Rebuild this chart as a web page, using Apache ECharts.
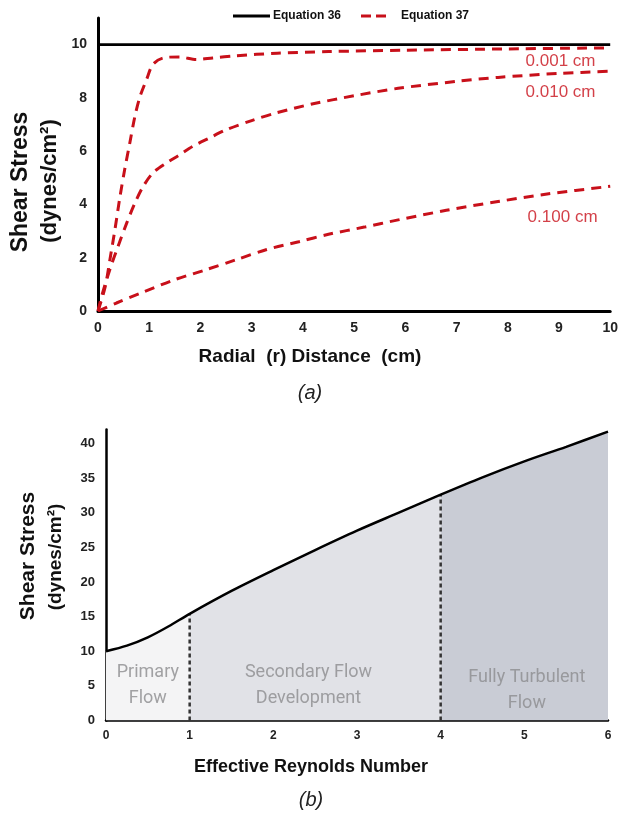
<!DOCTYPE html>
<html>
<head>
<meta charset="utf-8">
<script src="https://cdn.jsdelivr.net/npm/echarts@6/dist/echarts.min.js"></script>
<style>
  html, body { margin: 0; padding: 0; background: #fff; }
  #chart { width: 621px; height: 813px; }
</style>
</head>
<body>
<div id="chart"></div>
<script>
// (a) shear stress vs radial distance
const eq36X = [0, 10];
const eq36Y = [10, 10];

const r001X = [0, 0.14, 0.23, 0.33, 0.43, 0.52, 0.62, 0.72, 0.82, 0.95, 1.07, 1.27, 1.59, 1.92, 2.24, 2.69, 3.5, 4.5, 6, 8, 10];
const r001Y = [0, 0.9, 1.9, 3.05, 4.3, 5.3, 6.3, 7.3, 8.05, 8.7, 9.25, 9.5, 9.54, 9.44, 9.5, 9.58, 9.68, 9.74, 9.79, 9.84, 9.88];

const r010X = [0, 0.07, 0.23, 0.39, 0.56, 0.72, 0.88, 1.07, 1.33, 1.59, 1.85, 2.17, 2.5, 3, 3.5, 4.2, 5, 5.86, 7, 7.81, 9, 10];
const r010Y = [0, 0.55, 1.55, 2.42, 3.3, 4.05, 4.67, 5.18, 5.55, 5.86, 6.18, 6.49, 6.8, 7.15, 7.45, 7.78, 8.08, 8.36, 8.62, 8.77, 8.92, 9.0];

const r100X = [0, 0.36, 0.82, 1.46, 2.11, 2.69, 3.28, 3.92, 4.5, 5.2, 5.86, 6.8, 7.81, 8.8, 10];
const r100Y = [0, 0.3, 0.66, 1.15, 1.55, 1.92, 2.3, 2.6, 2.88, 3.15, 3.42, 3.78, 4.11, 4.4, 4.68];

const gapLabels = ['0.001 cm', '0.010 cm', '0.100 cm'];
const gapLabelX = [9.03, 9.03, 9.07];
const gapLabelY = [9.38, 8.2, 3.5];

// (b) shear stress vs effective Reynolds number
const reX = [0, 0.25, 0.5, 0.75, 1, 1.5, 2, 2.5, 3, 3.5, 4, 4.5, 5, 5.5, 6];
const reY = [10, 10.8, 12.0, 13.6, 15.4, 18.7, 21.7, 24.6, 27.4, 30.0, 32.6, 35.1, 37.4, 39.5, 41.7];
const regionBounds = [0, 1, 4, 6];
const regionColors = ['#f4f4f5', '#e1e2e7', '#c9ccd5'];
const regionNames = ['Primary\nFlow', 'Secondary Flow\nDevelopment', 'Fully Turbulent\nFlow'];
const regionLabelX = [0.5, 2.42, 5.03];
const regionLabelY = [5.1, 5.0, 4.4];

const zip = (xs, ys) => xs.map((x, i) => [x, ys[i]]);
const RED = '#c8101a';
const FONT = '"Liberation Sans", Arial, sans-serif';

const chart = echarts.init(document.getElementById('chart'), null, { renderer: 'canvas' });

const redLine = (xs, ys) => ({
  name: 'Equation 37',
  type: 'line',
  xAxisIndex: 0,
  yAxisIndex: 0,
  data: zip(xs, ys),
  smooth: 0.3,
  symbol: 'none',
  lineStyle: { color: RED, width: 3, type: [10, 7] },
  itemStyle: { color: RED },
  z: 3
});

const areaSeries = regionColors.map((c, i) => ({
  type: 'line',
  xAxisIndex: 1,
  yAxisIndex: 1,
  data: zip(reX, reY).filter(p => p[0] >= regionBounds[i] && p[0] <= regionBounds[i + 1]),
  smooth: 0.3,
  symbol: 'none',
  lineStyle: { width: 0 },
  areaStyle: { color: c, opacity: 1 },
  silent: true,
  z: 1
}));

const dividerSeries = [1, 4].map(b => ({
  type: 'line',
  xAxisIndex: 1,
  yAxisIndex: 1,
  data: [[b, 0], [b, reY[reX.indexOf(b)]]],
  symbol: 'none',
  lineStyle: { color: '#333', width: 2.5, type: [4, 3] },
  silent: true,
  z: 2
}));

const axisCommon = {
  axisLine: { show: true, onZero: false, lineStyle: { color: '#000', width: 3 } },
  axisTick: { show: false },
  splitLine: { show: false }
};

const option = {
  animation: false,
  backgroundColor: '#fff',
  legend: {
    data: [
      { name: 'Equation 36', icon: 'path://M0,0h37v3h-37z', itemStyle: { color: '#000' } },
      { name: 'Equation 37', icon: 'path://M0,0h10v3h-10z M15,0h10v3h-10z M37,0h0v3h0z', itemStyle: { color: RED } }
    ],
    left: 228,
    top: 5,
    itemWidth: 37,
    itemHeight: 3,
    itemGap: 20,
    textStyle: { fontFamily: FONT, fontWeight: 'bold', fontSize: 12, color: '#111', padding: [0, 0, 0, -2] }
  },
  grid: [
    { left: 98, top: 18, width: 515, height: 293 },
    { left: 106, top: 429.5, width: 502, height: 291 }
  ],
  xAxis: [
    Object.assign({}, axisCommon, {
      type: 'value', gridIndex: 0, min: 0, max: 10, interval: 1,
      axisLabel: { margin: 10, fontFamily: FONT, fontWeight: 'bold', fontSize: 14, color: '#222' }
    }),
    Object.assign({}, axisCommon, {
      type: 'value', gridIndex: 1, min: 0, max: 6, interval: 1,
      axisLine: { show: true, onZero: false, lineStyle: { color: '#000', width: 2.5 } },
      axisLabel: { margin: 9, fontFamily: FONT, fontWeight: 'bold', fontSize: 12, color: '#222' }
    })
  ],
  yAxis: [
    Object.assign({}, axisCommon, {
      type: 'value', gridIndex: 0, min: 0, max: 11, interval: 2,
      axisLabel: {
        margin: 11, fontFamily: FONT, fontWeight: 'bold', fontSize: 14, color: '#222',
        formatter: v => (v % 2 === 0 ? String(v) : '')
      }
    }),
    Object.assign({}, axisCommon, {
      type: 'value', gridIndex: 1, min: 0, max: 42, interval: 5,
      axisLine: { show: true, onZero: false, lineStyle: { color: '#000', width: 2.5 } },
      axisLabel: {
        margin: 11, fontFamily: FONT, fontWeight: 'bold', fontSize: 13, color: '#222',
        formatter: v => (v % 5 === 0 ? String(v) : '')
      }
    })
  ],
  graphic: [
    { type: 'text', x: 21, y: 182, rotation: Math.PI / 2,
      style: { text: 'Shear Stress', font: 'bold 23px ' + FONT, fill: '#111', align: 'center', verticalAlign: 'middle' } },
    { type: 'text', x: 50, y: 181, rotation: Math.PI / 2,
      style: { text: '(dynes/cm²)', font: 'bold 22px ' + FONT, fill: '#111', align: 'center', verticalAlign: 'middle' } },
    { type: 'text', x: 310, y: 357,
      style: { text: 'Radial  (r) Distance  (cm)', font: 'bold 19px ' + FONT, fill: '#111', align: 'center', verticalAlign: 'middle' } },
    { type: 'text', x: 310, y: 393,
      style: { text: '(a)', font: 'italic 20px ' + FONT, fill: '#222', align: 'center', verticalAlign: 'middle' } },
    { type: 'text', x: 28, y: 556, rotation: Math.PI / 2,
      style: { text: 'Shear Stress', font: 'bold 21px ' + FONT, fill: '#111', align: 'center', verticalAlign: 'middle' } },
    { type: 'text', x: 56, y: 557, rotation: Math.PI / 2,
      style: { text: '(dynes/cm²)', font: 'bold 19px ' + FONT, fill: '#111', align: 'center', verticalAlign: 'middle' } },
    { type: 'text', x: 311, y: 767,
      style: { text: 'Effective Reynolds Number', font: 'bold 18px ' + FONT, fill: '#111', align: 'center', verticalAlign: 'middle' } },
    { type: 'text', x: 311, y: 800,
      style: { text: '(b)', font: 'italic 20px ' + FONT, fill: '#222', align: 'center', verticalAlign: 'middle' } }
  ],
  series: [
    {
      name: 'Equation 36',
      type: 'line',
      xAxisIndex: 0,
      yAxisIndex: 0,
      data: zip(eq36X, eq36Y),
      symbol: 'none',
      lineStyle: { color: '#000', width: 2.8 },
      itemStyle: { color: '#000' },
      z: 3
    },
    redLine(r001X, r001Y),
    redLine(r010X, r010Y),
    redLine(r100X, r100Y),
    {
      type: 'scatter',
      xAxisIndex: 0,
      yAxisIndex: 0,
      symbolSize: 0,
      silent: true,
      data: gapLabels.map((t, i) => ({ name: t, value: [gapLabelX[i], gapLabelY[i]] })),
      label: {
        show: true, position: 'inside', formatter: p => p.name,
        fontFamily: FONT, fontSize: 17, color: RED
      },
      z: 4
    },
    ...areaSeries,
    ...dividerSeries,
    {
      type: 'line',
      xAxisIndex: 1,
      yAxisIndex: 1,
      data: zip(reX, reY),
      smooth: 0.3,
      symbol: 'none',
      lineStyle: { color: '#000', width: 2.5 },
      silent: true,
      z: 3
    },
    {
      type: 'scatter',
      xAxisIndex: 1,
      yAxisIndex: 1,
      symbolSize: 0,
      silent: true,
      data: regionNames.map((t, i) => ({ name: t, value: [regionLabelX[i], regionLabelY[i]] })),
      label: {
        show: true, position: 'inside', formatter: p => p.name,
        fontFamily: 'Roboto, sans-serif', fontSize: 18, lineHeight: 26, color: '#8c8c8e', align: 'center'
      },
      z: 4
    }
  ]
};

chart.setOption(option);
window.addEventListener('resize', () => chart.resize());
</script>
</body>
</html>
